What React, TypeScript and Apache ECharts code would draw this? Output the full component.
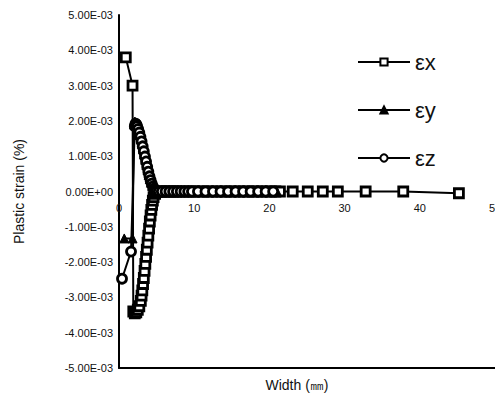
import React, { useEffect, useRef } from "react";
import * as echarts from "echarts";

const exX = [0.9, 1.8, 1.9, 2.1, 2.3, 2.5, 2.7, 2.9, 3.0, 3.1, 3.2, 3.3, 3.4, 3.5, 3.6, 3.7, 3.8, 3.9, 4.0, 4.1, 4.2, 4.3, 4.4, 4.5, 4.6, 4.8, 5.0, 5.3, 5.6, 6.0, 6.4, 6.8, 7.2, 7.6, 8.0, 8.5, 9.0, 9.5, 10.0, 10.6, 11.2, 11.8, 12.4, 13.0, 13.6, 14.2, 14.8, 15.4, 16.0, 16.6, 17.2, 17.8, 18.4, 19.0, 19.6, 20.2, 20.8, 21.4, 23.1, 25.1, 27.1, 29.1, 32.8, 37.8, 45.2];
const exY = [3.8, 3.0, -3.4, -3.45, -3.42, -3.35, -3.25, -3.1, -2.95, -2.8, -2.62, -2.45, -2.25, -2.05, -1.85, -1.65, -1.45, -1.25, -1.05, -0.85, -0.68, -0.52, -0.38, -0.26, -0.16, -0.07, -0.02, 0, 0, 0, 0, 0, 0, 0, 0, 0, 0, 0, 0, 0, 0, 0, 0, 0, 0, 0, 0, 0, 0, 0, 0, 0, 0, 0, 0, 0, 0, 0, 0, 0, 0, 0, 0, 0, -0.05];

const eyX = [0.7, 1.8, 2.0, 2.1, 2.2, 2.3, 2.45, 2.6, 2.75, 2.9, 3.05, 3.2, 3.35, 3.5, 3.65, 3.8, 3.95, 4.1, 4.25, 4.4, 4.55, 4.7, 4.9, 5.2, 5.6, 6.0, 6.5, 7.0, 7.5, 8.0, 8.5, 9.0, 9.5, 10.0, 11.0, 12.0, 13.0, 14.0, 15.0, 16.0, 17.0, 18.0, 19.0, 20.0, 21.0];
const eyY = [-1.33, -1.33, 1.9, 1.98, 1.96, 1.9, 1.82, 1.72, 1.6, 1.48, 1.35, 1.2, 1.05, 0.9, 0.75, 0.6, 0.47, 0.35, 0.25, 0.16, 0.09, 0.04, 0.01, 0, 0, 0, 0, 0, 0, 0, 0, 0, 0, 0, 0, 0, 0, 0, 0, 0, 0, 0, 0, 0, 0];

const ezX = [0.4, 1.6, 2.1, 2.2, 2.3, 2.4, 2.55, 2.7, 2.85, 3.0, 3.15, 3.3, 3.45, 3.6, 3.75, 3.9, 4.05, 4.2, 4.35, 4.5, 4.65, 4.8, 5.0, 5.3, 5.7, 6.2, 6.7, 7.2, 7.7, 8.2, 8.7, 9.2, 9.7, 10.5, 11.5, 12.5, 13.5, 14.5, 15.5, 16.5, 17.5, 18.5, 19.5, 20.5];
const ezY = [-2.47, -1.7, 1.85, 1.92, 1.9, 1.85, 1.77, 1.67, 1.55, 1.42, 1.28, 1.14, 0.99, 0.85, 0.7, 0.56, 0.43, 0.32, 0.22, 0.14, 0.08, 0.03, 0.01, 0, 0, 0, 0, 0, 0, 0, 0, 0, 0, 0, 0, 0, 0, 0, 0, 0, 0, 0, 0, 0];

const seriesNames = ["εx", "εy", "εz"];

const pair = (xs: number[], ys: number[]) => xs.map((x, i) => [x, ys[i] * 1e-3]);

const fmtY = (v: number) => {
  if (Math.abs(v) < 1e-12) return "0.00E+00";
  const s = v.toExponential(2);
  const [m, e] = s.split("e");
  const sign = e[0] === "-" ? "-" : "+";
  const digits = e.replace(/[+-]/, "").padStart(2, "0");
  return `${m}E${sign}${digits}`;
};

const GRID_TOP = 15;
const GRID_BOTTOM = 33;
const CHART_H = 401;

export default function App() {
  const ref = useRef<HTMLDivElement>(null);
  useEffect(() => {
    if (!ref.current) return;
    const chart = echarts.init(ref.current, undefined, { renderer: "svg" });
    const font = "Liberation Sans, Arial, sans-serif";
    // the zero value sits half-way up the plot, since the y range is symmetric
    const zeroOffset = -(CHART_H - GRID_TOP - GRID_BOTTOM) / 2;
    const base = {
      type: "line",
      xAxisIndex: 0,
      showAllSymbol: true,
      symbolSize: 9,
      lineStyle: { color: "#000", width: 2 },
    };
    chart.setOption({
      animation: false,
      backgroundColor: "#fff",
      grid: { left: 119, right: 0, top: GRID_TOP, bottom: GRID_BOTTOM, outerBoundsMode: "none", containLabel: false },
      legend: {
        orient: "vertical",
        left: 352,
        top: 46,
        itemWidth: 52,
        itemHeight: 9,
        itemGap: 26,
        textStyle: { fontSize: 22, color: "#111", fontFamily: font },
        data: seriesNames,
      },
      xAxis: [
        {
          type: "value",
          min: 0,
          max: 50,
          interval: 10,
          position: "bottom",
          name: "Width (㎜)",
          nameLocation: "middle",
          nameGap: 10,
          nameTextStyle: { fontSize: 14, color: "#111", fontFamily: font, padding: [0, 20, 0, 0] },
          axisLine: { show: true, onZero: false, lineStyle: { color: "#000", width: 2 } },
          axisTick: { show: false },
          axisLabel: { show: false },
          splitLine: { show: false },
        },
        {
          type: "value",
          min: 0,
          max: 50,
          interval: 10,
          position: "bottom",
          offset: zeroOffset,
          axisLine: { show: false, onZero: false },
          axisTick: { show: false },
          axisLabel: { show: true, fontSize: 11, color: "#111", fontFamily: font, margin: 11 },
          splitLine: { show: false },
        },
      ],
      yAxis: {
        type: "value",
        min: -0.005,
        max: 0.005,
        interval: 0.001,
        position: "left",
        name: "Plastic strain (%)",
        nameLocation: "middle",
        nameGap: 93,
        nameTextStyle: { fontSize: 14, color: "#111", fontFamily: font },
        axisLine: { show: true, onZero: false, lineStyle: { color: "#000", width: 2 } },
        axisTick: { show: false },
        axisLabel: { formatter: fmtY, fontSize: 11, color: "#111", fontFamily: font, margin: 6 },
        splitLine: { show: false },
      },
      series: [
        {
          ...base,
          name: seriesNames[0],
          symbol: "rect",
          itemStyle: { color: "#fff", borderColor: "#000", borderWidth: 2.8 },
          data: pair(exX, exY),
        },
        {
          ...base,
          name: seriesNames[1],
          symbol: "triangle",
          itemStyle: { color: "#000", borderColor: "#000", borderWidth: 1 },
          data: pair(eyX, eyY),
        },
        {
          ...base,
          name: seriesNames[2],
          symbol: "circle",
          itemStyle: { color: "#fff", borderColor: "#000", borderWidth: 2.8 },
          data: pair(ezX, ezY),
        },
      ],
    });
    return () => chart.dispose();
  }, []);
  return <div ref={ref} style={{ width: 495, height: 401, position: "absolute", left: 0, top: 0 }} />;
}
